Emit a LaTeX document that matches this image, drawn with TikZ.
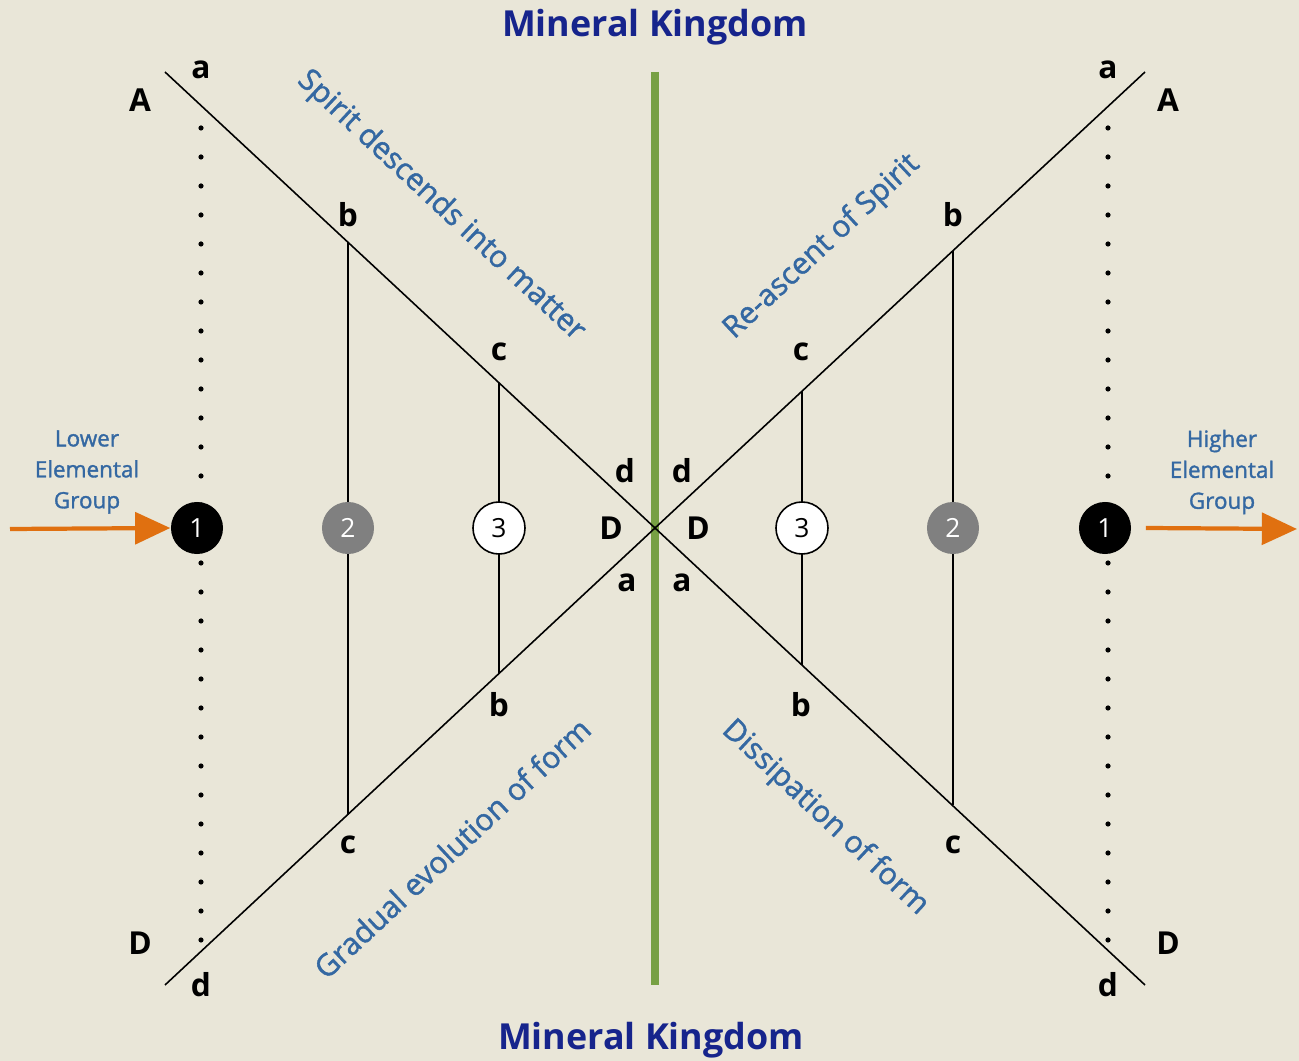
\documentclass[tikz,border=0pt]{standalone}
\usepackage{fontspec}
\setmainfont{Open Sans}
\newfontfamily\semifont[FakeBold=1.4]{Open Sans}
\usetikzlibrary{calc,arrows.meta}
\definecolor{bgbeige}{RGB}{233,230,216}
\definecolor{kingblue}{RGB}{22,36,140}
\definecolor{axisgreen}{RGB}{119,160,67}
\definecolor{noteblue}{RGB}{52,104,162}
\definecolor{flowarrow}{RGB}{224,112,16}

\tikzset{
  letter/.style={font=\fontsize{9}{10}\selectfont\bfseries},
  kingdom/.style={font=\fontsize{10.2}{12}\selectfont\bfseries, text=kingblue},
  phase/.style={font=\fontsize{8.6}{10}\selectfont\semifont, text=noteblue},
  group/.style={font=\fontsize{6.4}{8.8}\selectfont\semifont, text=noteblue, align=center},
  numdot/.style={circle, minimum size=0.52cm, inner sep=0pt, font=\fontsize{7.5}{8}\selectfont},
  flow/.style={flowarrow, line width=1.2pt, -{Triangle[length=10pt,width=9pt]}}
}

\begin{document}
\begin{tikzpicture}[x=0.01cm,y=-0.01cm]
  \useasboundingbox (0,0) rectangle (1299,1061);
  \fill[bgbeige] (0,0) rectangle (1299,1061);

  % corners of the two crosses
  \coordinate (lA) at (165,72);
  \coordinate (lD) at (165,985);
  \coordinate (rA) at (1145,72);
  \coordinate (rD) at (1145,985);
  \coordinate (mid) at (655,528);

  % green axis
  \draw[axisgreen, line width=2pt] (655,72) -- (655,985);

  % the diagonals
  \draw[line width=0.45pt] (lA) -- (mid) -- (rD);
  \draw[line width=0.45pt] (lD) -- (mid) -- (rA);

  % vertical rungs
  \draw[line width=0.45pt] (348,242) -- (348,815);
  \draw[line width=0.45pt] (499,383) -- (499,673);
  \draw[line width=0.45pt] (802,391) -- (802,665);
  \draw[line width=0.45pt] (953,251) -- (953,805);

  % dotted columns
  \foreach \y in {128,157,...,940} {
    \fill (201,\y) circle (2.6);
    \fill (1108,\y) circle (2.6);
  }

  % numbered circles
  \node[numdot, fill=black, text=white] (l1) at (197,528) {1};
  \node[numdot, fill=gray, text=white] (l2) at (348,528) {2};
  \node[numdot, fill=white, draw=black, line width=0.45pt] (l3) at (499,528) {3};
  \node[numdot, fill=white, draw=black, line width=0.45pt] (r3) at (802,528) {3};
  \node[numdot, fill=gray, text=white] (r2) at (953,528) {2};
  \node[numdot, fill=black, text=white] (r1) at (1105,528) {1};

  % letters, left
  \node[letter] at (140,100) {A};
  \node[letter] at (201,70) {a};
  \node[letter] at (348,215) {b};
  \node[letter] at (499,352) {c};
  \node[letter] at (625,471) {d};
  \node[letter] at (611,528) {D};
  \node[letter] at (627,583) {a};
  \node[letter] at (499,705) {b};
  \node[letter] at (348,845) {c};
  \node[letter] at (140,943) {D};
  \node[letter] at (201,985) {d};
  % letters, right
  \node[letter] at (1168,100) {A};
  \node[letter] at (1108,70) {a};
  \node[letter] at (953,215) {b};
  \node[letter] at (801,352) {c};
  \node[letter] at (682,471) {d};
  \node[letter] at (698,528) {D};
  \node[letter] at (682,583) {a};
  \node[letter] at (801,705) {b};
  \node[letter] at (953,845) {c};
  \node[letter] at (1168,943) {D};
  \node[letter] at (1108,985) {d};

  % titles
  \node[kingdom] (top) at (655,27) {Mineral Kingdom};
  \node[kingdom] (bottom) at (651,1040) {Mineral Kingdom};

  % phase labels
  \node[phase, rotate=-43] at (441,206) {Spirit descends into matter};
  \node[phase, rotate=43] at (822,247) {Re-ascent of Spirit};
  \node[phase, rotate=43] at (452,848) {Gradual evolution of form};
  \node[phase, rotate=-43] at (825,818) {Dissipation of form};

  % side groups and arrows
  \node[group] (lower) at (87,472) {Lower\\Elemental\\Group};
  \node[group] (higher) at (1222,472) {Higher\\Elemental\\Group};
  \coordinate (inarrow) at (10,529);
  \coordinate (outarrow) at (1297,529);
  \draw[flow] (inarrow) -- (l1.west);
  \draw[flow] ([xshift=4pt]r1.east) -- (outarrow);
\end{tikzpicture}
\end{document}
